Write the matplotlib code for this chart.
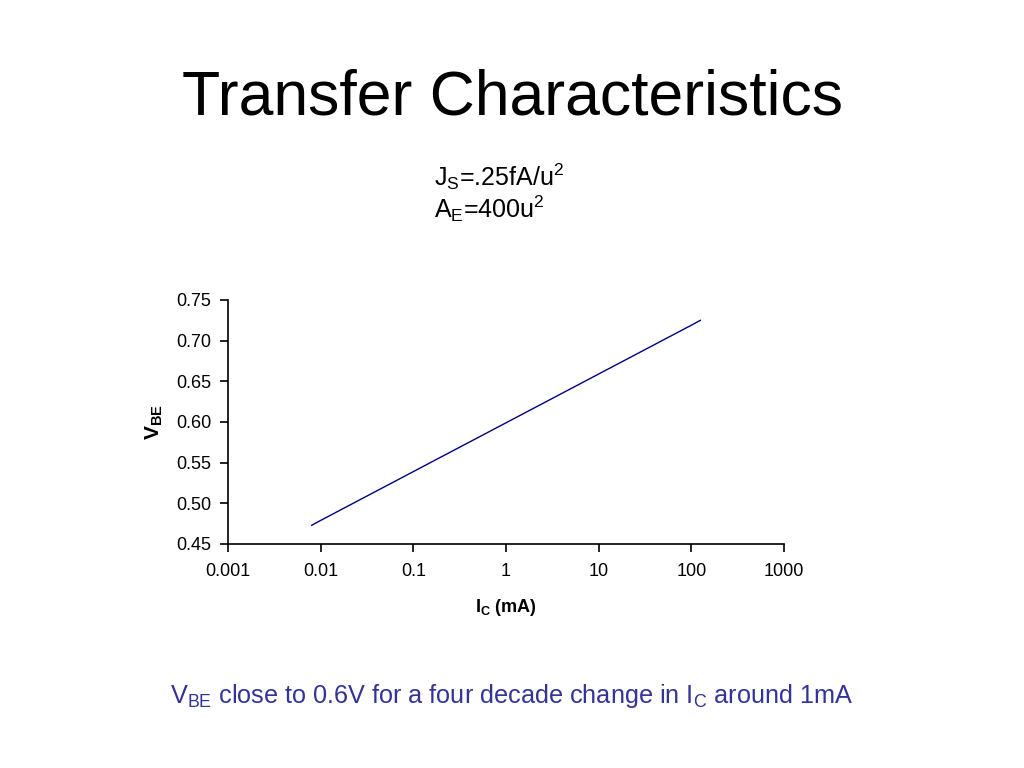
import matplotlib.pyplot as plt
from matplotlib.ticker import FixedLocator, FixedFormatter, NullLocator

plt.rcParams['font.family'] = ['Liberation Sans', 'DejaVu Sans']
plt.rcParams['mathtext.fontset'] = 'custom'
plt.rcParams['mathtext.rm'] = 'Liberation Sans'
plt.rcParams['mathtext.it'] = 'Liberation Sans:italic'
plt.rcParams['mathtext.bf'] = 'Liberation Sans:bold'

# I_C (mA) vs V_BE
ic_ma = [0.008, 0.01, 0.1, 1, 10, 100, 125]
vbe = [0.473, 0.479, 0.539, 0.599, 0.659, 0.719, 0.725]

x_ticks = [0.001, 0.01, 0.1, 1, 10, 100, 1000]
x_labels = ['0.001', '0.01', '0.1', '1', '10', '100', '1000']
y_ticks = [0.45, 0.50, 0.55, 0.60, 0.65, 0.70, 0.75]

fig = plt.figure(figsize=(10.24, 7.68), dpi=100)

fig.text(0.5, 0.873, 'Transfer Characteristics', ha='center', va='center', fontsize=45)
fig.text(0.424, 0.77, r'J$_{\mathrm{S}}$=.25fA/u$^{2}$', ha='left', va='center', fontsize=18)
fig.text(0.424, 0.728, r'A$_{\mathrm{E}}$=400u$^{2}$', ha='left', va='center', fontsize=18)

ax = fig.add_axes([228 / 1024, 1 - 544 / 768, (784 - 228) / 1024, (544 - 300) / 768])
ax.plot(ic_ma, vbe, color='#000080', linewidth=1.0)

ax.set_xscale('log')
ax.set_xlim(0.001, 1000)
ax.set_ylim(0.45, 0.75)
ax.xaxis.set_major_locator(FixedLocator(x_ticks))
ax.xaxis.set_major_formatter(FixedFormatter(x_labels))
ax.xaxis.set_minor_locator(NullLocator())
ax.set_yticks(y_ticks)
ax.set_yticklabels([f'{v:.2f}' for v in y_ticks])

for side in ['top', 'right']:
    ax.spines[side].set_visible(False)
for side in ['left', 'bottom']:
    ax.spines[side].set_linewidth(1.2)
ax.tick_params(axis='both', direction='out', length=6, width=1.2, labelsize=13)
ax.tick_params(axis='x', pad=8)
ax.tick_params(axis='y', pad=6)

ax.set_xlabel(r'I$_{\mathbf{C}}$ (mA)', fontsize=13, fontweight='bold', labelpad=12)
ax.set_ylabel(r'V$_{\mathbf{BE}}$', fontsize=15, fontweight='bold', labelpad=8)

fig.text(0.5, 0.094, r'V$_{\mathrm{BE}}$ close to 0.6V for a four decade change in I$_{\mathrm{C}}$ around 1mA',
         ha='center', va='center', fontsize=18.2, color='#333399')

fig.savefig('out.png', dpi=100)
